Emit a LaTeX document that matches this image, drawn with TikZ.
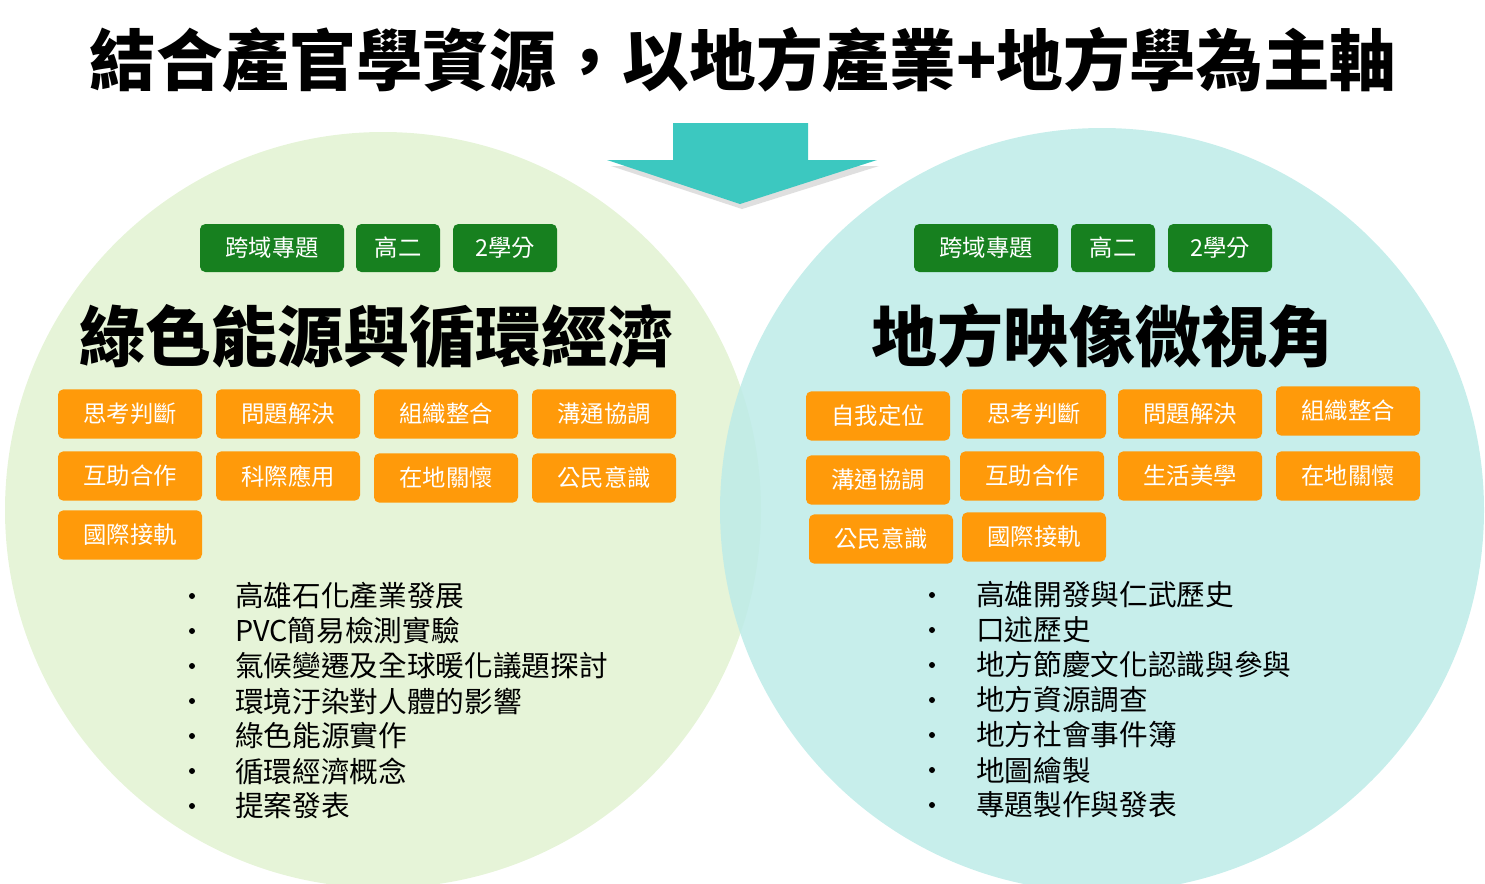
\documentclass[tikz,border=0pt]{standalone}
\usepackage{fontspec}
\setmainfont{Noto Sans CJK TC}
\definecolor{lgreen}{HTML}{E6F4D8}
\definecolor{lcyan}{HTML}{BDEBE8}
\definecolor{teal}{HTML}{3CC8C0}
\definecolor{dgreen}{HTML}{17801F}
\definecolor{orng}{HTML}{FF9A0A}
\tikzset{
 gtag/.style={fill=dgreen,rounded corners=4pt,text=white,minimum height=36pt,inner sep=0pt,font=\fontsize{17.5}{17.5}\selectfont},
 otag/.style={fill=orng,rounded corners=4pt,text=white,minimum height=37pt,minimum width=108pt,inner sep=0pt,font=\fontsize{17.5}{17.5}\selectfont},
 big/.style={font=\fontsize{49.5}{49.5}\selectfont\bfseries,inner sep=0pt},
 itm/.style={anchor=west,inner sep=0pt,font=\fontsize{21.5}{21.5}\selectfont},
 dot/.style={circle,fill=black,inner sep=0pt,minimum size=4.5pt}
}
\begin{document}
\begin{tikzpicture}[x=0.75pt,y=-0.75pt]
\useasboundingbox (0,0) rectangle (1485,883);
\fill[lgreen] (383,510) circle (378);
\fill[lcyan,opacity=0.85] (1102,510) circle (382);
\node[font=\fontsize{50}{50}\selectfont\bfseries,inner sep=0pt] (title) at (743,60) {結合產官學資源，以地方產業+地方學為主軸};
\fill[black!25,opacity=0.5] (611,166) -- (879,166) -- (742,209) -- cycle;
\fill[teal] (673,123) -- (808,123) -- (808,160) -- (877,160) -- (740,204) -- (607,160) -- (673,160) -- cycle;
\node[gtag,minimum width=108pt] (g1) at (272,248) {跨域專題};
\node[gtag,minimum width=63pt] (g2) at (398,248) {高二};
\node[gtag,minimum width=78pt] (g3) at (505,248) {2學分};
\node[gtag,minimum width=108pt] (h1) at (986,248) {跨域專題};
\node[gtag,minimum width=63pt] (h2) at (1113,248) {高二};
\node[gtag,minimum width=78pt] (h3) at (1220,248) {2學分};
\node[big] (lt) at (376,336) {綠色能源與循環經濟};
\node[big] (rt) at (1102,336) {地方映像微視角};
\node[otag] (a1) at (130,414) {思考判斷};
\node[otag] (a2) at (288,414) {問題解決};
\node[otag] (a3) at (446,414) {組織整合};
\node[otag] (a4) at (604,414) {溝通協調};
\node[otag] (a5) at (130,476) {互助合作};
\node[otag] (a6) at (288,476) {科際應用};
\node[otag] (a7) at (446,478) {在地關懷};
\node[otag] (a8) at (604,478) {公民意識};
\node[otag] (a9) at (130,535) {國際接軌};
\node[otag] (b1) at (878,416) {自我定位};
\node[otag] (b2) at (1034,414) {思考判斷};
\node[otag] (b3) at (1190,414) {問題解決};
\node[otag] (b4) at (1348,411) {組織整合};
\node[otag] (b5) at (878,480) {溝通協調};
\node[otag] (b6) at (1032,476) {互助合作};
\node[otag] (b7) at (1190,476) {生活美學};
\node[otag] (b8) at (1348,476) {在地關懷};
\node[otag] (b9) at (881,539) {公民意識};
\node[otag] (b10) at (1034,537) {國際接軌};
\foreach \t [count=\i] in {高雄石化產業發展,PVC簡易檢測實驗,氣候變遷及全球暖化議題探討,環境汙染對人體的影響,綠色能源實作,循環經濟概念,提案發表}{
 \node[dot] (ld\i) at (192,{561+35*\i}) {};
 \node[itm] (l\i) at (235,{561+35*\i}) {\t};
}
\foreach \t [count=\i] in {高雄開發與仁武歷史,口述歷史,地方節慶文化認識與參與,地方資源調查,地方社會事件簿,地圖繪製,專題製作與發表}{
 \node[dot] (rd\i) at (932,{560+35*\i}) {};
 \node[itm] (r\i) at (976,{560+35*\i}) {\t};
}
\end{tikzpicture}
\end{document}
